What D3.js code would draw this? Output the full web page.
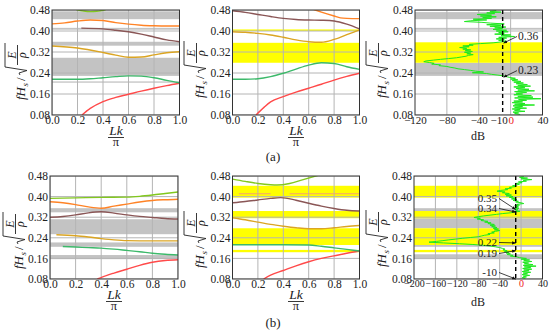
<!DOCTYPE html>
<html><head><meta charset="utf-8">
<script src="https://cdn.jsdelivr.net/npm/d3@7"></script>
<style>body{margin:0;background:#fff}svg{display:block}</style>
</head><body><svg id="c" width="550" height="335"></svg>
<script>
// ---------- data ----------
const freqTicks = [0.08,0.16,0.24,0.32,0.40,0.48];
const lkTicks = [0,0.2,0.4,0.6,0.8,1.0];
const dbTicksA = [-120,-80,-40,-10,0,40];
const dbGridA = [-80,-40,0];
const dbTicksB = [-200,-160,-120,-80,-40,0,40];
const dbGridB = [-160,-120,-80,-40,0];
const dashedDb = -10;

// (a) left
const a1Red = [[0.235,0.08],[0.3,0.105],[0.4,0.131],[0.5,0.147],[0.6,0.159],[0.7,0.171],[0.8,0.182],[0.9,0.192],[1.0,0.201]];
const a1Green = [[0,0.216],[0.2,0.216],[0.3,0.218],[0.4,0.222],[0.5,0.226],[0.6,0.229],[0.7,0.228],[0.8,0.222],[0.9,0.212],[1.0,0.203]];
const a1Gold = [[0,0.343],[0.2,0.335],[0.4,0.318],[0.5,0.308],[0.6,0.300],[0.7,0.301],[0.8,0.309],[0.9,0.317],[1.0,0.321]];
const a1Brown = [[0.23,0.411],[0.4,0.408],[0.5,0.403],[0.6,0.397],[0.7,0.388],[0.8,0.377],[0.9,0.366],[1.0,0.359]];
const a1Orange = [[0,0.427],[0.1,0.431],[0.2,0.438],[0.3,0.442],[0.4,0.44],[0.5,0.432],[0.6,0.426],[0.7,0.422],[0.8,0.42],[0.9,0.419],[1.0,0.419]];
const a1Lime = [[0.19,0.482],[0.25,0.476],[0.3,0.474],[0.35,0.475],[0.42,0.481]];
const a1Gray = [[0.445,0.475],[0.405,0.412],[0.344,0.359],[0.229,0.298],[0.203,0.208]];

// (a) middle
const a2Red = [[0.185,0.08],[0.25,0.11],[0.3,0.13],[0.4,0.150],[0.5,0.167],[0.6,0.182],[0.7,0.197],[0.8,0.213],[0.9,0.227],[1.0,0.239]];
const a2Green = [[0,0.216],[0.1,0.216],[0.2,0.218],[0.3,0.226],[0.4,0.239],[0.5,0.255],[0.6,0.270],[0.7,0.279],[0.8,0.276],[0.9,0.264],[1.0,0.254]];
const a2Gold = [[0,0.397],[0.1,0.395],[0.2,0.391],[0.3,0.385],[0.4,0.376],[0.5,0.366],[0.6,0.359],[0.7,0.357],[0.8,0.368],[0.9,0.386],[1.0,0.404]];
const a2Brown = [[0,0.477],[0.1,0.471],[0.2,0.463],[0.3,0.455],[0.4,0.448],[0.5,0.444],[0.6,0.442],[0.7,0.441],[0.8,0.438],[0.9,0.426],[1.0,0.408]];
const a2Orange = [[0.64,0.482],[0.7,0.472],[0.8,0.457],[0.85,0.45],[0.9,0.448],[1.0,0.447]];
const a2Yellow = [[0.279,0.355],[0.400,0.406]];

// (a) right : transmission [freq, dB]
const a3Gray = [[0.445,0.472],[0.405,0.412],[0.229,0.279]];
const a3Yellow = [[0.279,0.357]];
const a3Trans = [[0.478,-18],[0.475,-26],[0.472,-12],[0.469,-30],[0.466,-20],[0.463,-42],[0.460,-24],[0.457,-38],[0.454,-18],[0.451,-35],[0.448,-24],[0.445,-47],[0.442,-30],[0.439,-50],[0.436,-58],[0.433,-36],[0.430,-25],[0.427,-8],[0.424,-30],[0.421,-12],[0.418,-26],[0.415,-6],[0.412,-20],[0.409,-10],[0.406,-22],[0.403,-5],[0.400,-18],[0.397,-3],[0.394,-15],[0.391,-8],[0.388,-20],[0.385,0],[0.382,-12],[0.379,5],[0.376,-15],[0.373,-5],[0.370,-18],[0.367,-8],[0.364,-15],[0.361,-5],[0.358,-13],[0.355,-22],[0.352,-38],[0.349,-52],[0.346,-47],[0.343,-60],[0.340,-52],[0.337,-64],[0.334,-55],[0.331,-60],[0.328,-50],[0.325,-57],[0.322,-48],[0.319,-58],[0.316,-50],[0.313,-55],[0.310,-47],[0.307,-53],[0.304,-56],[0.301,-62],[0.298,-68],[0.295,-78],[0.292,-88],[0.289,-97],[0.286,-106],[0.283,-109],[0.280,-102],[0.277,-96],[0.274,-99],[0.271,-88],[0.268,-90],[0.265,-80],[0.262,-76],[0.259,-70],[0.256,-66],[0.253,-58],[0.250,-50],[0.247,-44],[0.244,-34],[0.241,-48],[0.238,-30],[0.235,-24],[0.232,-16],[0.229,-9],[0.226,-5],[0.223,-1],[0.220,6],[0.217,0],[0.214,9],[0.211,2],[0.208,13],[0.205,4],[0.202,16],[0.199,7],[0.196,21],[0.193,9],[0.190,25],[0.187,4],[0.184,18],[0.181,7],[0.178,23],[0.175,9],[0.172,30],[0.169,5],[0.166,20],[0.163,7],[0.160,15],[0.157,4],[0.154,26],[0.151,9],[0.148,28],[0.145,5],[0.142,38],[0.139,10],[0.136,20],[0.133,4],[0.130,15],[0.127,2],[0.124,18],[0.121,5],[0.118,30],[0.115,3],[0.112,15],[0.109,5],[0.106,20],[0.103,2],[0.100,12],[0.097,5],[0.094,18],[0.091,3],[0.088,10],[0.085,5],[0.082,12]];
const a3Notes = [{label:"0.36", f:0.36},{label:"0.23", f:0.23}];

// (b) left
const b1Red = [[0.37,0.08],[0.45,0.095],[0.5,0.103],[0.6,0.118],[0.7,0.133],[0.8,0.145],[0.9,0.152],[1.0,0.155]];
const b1Green = [[0.1,0.206],[0.2,0.204],[0.3,0.202],[0.4,0.200],[0.5,0.196],[0.6,0.191],[0.7,0.186],[0.8,0.18],[0.9,0.176],[1.0,0.173]];
const b1Gold = [[0.05,0.252],[0.2,0.248],[0.3,0.243],[0.4,0.237],[0.5,0.232],[0.6,0.229],[0.8,0.228],[1.0,0.228]];
const b1Brown = [[0,0.32],[0.1,0.323],[0.2,0.329],[0.3,0.337],[0.4,0.341],[0.5,0.336],[0.6,0.329],[0.7,0.323],[0.8,0.319],[0.9,0.315],[1.0,0.313]];
const b1Orange = [[0,0.38],[0.1,0.376],[0.2,0.369],[0.3,0.36],[0.4,0.355],[0.5,0.363],[0.6,0.371],[0.7,0.379],[0.8,0.385],[0.9,0.388],[1.0,0.39]];
const b1Lime = [[0,0.393],[0.2,0.395],[0.4,0.397],[0.6,0.398],[0.7,0.401],[0.8,0.406],[0.9,0.412],[1.0,0.418]];
const b1Gray = [[0.339,0.355],[0.254,0.312],[0.205,0.222],[0.157,0.173]];

// (b) middle
const b2Red = [[0.245,0.08],[0.3,0.095],[0.4,0.113],[0.5,0.131],[0.6,0.147],[0.7,0.16],[0.8,0.17],[0.9,0.18],[1.0,0.189]];
const b2Green = [[0,0.213],[0.2,0.213],[0.4,0.213],[0.6,0.212],[0.7,0.207],[0.8,0.201],[0.9,0.195],[1.0,0.189]];
const b2Gold = [[0,0.318],[0.1,0.31],[0.2,0.301],[0.3,0.292],[0.4,0.285],[0.5,0.279],[0.6,0.275],[0.7,0.275],[0.8,0.279],[0.9,0.284],[1.0,0.288]];
const b2Brown = [[0,0.376],[0.1,0.381],[0.2,0.387],[0.3,0.393],[0.38,0.396],[0.5,0.386],[0.6,0.374],[0.7,0.363],[0.8,0.354],[0.9,0.347],[1.0,0.344]];
const b2Lime = [[0,0.468],[0.1,0.459],[0.2,0.451],[0.3,0.446],[0.35,0.445],[0.45,0.451],[0.55,0.465],[0.67,0.482]];
const b2FlatA = [[0.05,0.411],[0.3,0.411]];
const b2FlatB = [[0.45,0.411],[1.0,0.411]];
const b2Yellow = [[0.396,0.442],[0.316,0.344],[0.212,0.277],[0.184,0.193]];

// (b) right
const b3Yellow = [[0.396,0.442],[0.316,0.344],[0.212,0.277],[0.184,0.193]];
const b3Gray = [[0.344,0.355],[0.277,0.316],[0.205,0.212],[0.157,0.176]];
const b3Trans = [[0.478,5],[0.475,-3],[0.472,12],[0.469,0],[0.466,20],[0.463,4],[0.460,10],[0.457,-5],[0.454,2],[0.451,-10],[0.448,-3],[0.445,-9],[0.442,-16],[0.439,-10],[0.436,-22],[0.433,-18],[0.430,-30],[0.427,-25],[0.424,-38],[0.421,-45],[0.418,-30],[0.415,-35],[0.412,-22],[0.409,-30],[0.406,-18],[0.403,-28],[0.400,-15],[0.397,-22],[0.394,-10],[0.391,-18],[0.388,-8],[0.385,-15],[0.382,-5],[0.379,-10],[0.376,0],[0.373,5],[0.370,-8],[0.367,-3],[0.364,-12],[0.361,-5],[0.358,-10],[0.355,-4],[0.352,-12],[0.349,-6],[0.346,-10],[0.343,-2],[0.340,-12],[0.337,-20],[0.334,-35],[0.331,-46],[0.328,-58],[0.325,-70],[0.322,-80],[0.319,-88],[0.316,-76],[0.313,-82],[0.310,-70],[0.307,-75],[0.304,-62],[0.301,-68],[0.298,-56],[0.295,-62],[0.292,-50],[0.289,-58],[0.286,-48],[0.283,-55],[0.280,-45],[0.277,-52],[0.274,-42],[0.271,-50],[0.268,-40],[0.265,-48],[0.262,-55],[0.259,-50],[0.256,-62],[0.253,-58],[0.250,-68],[0.247,-74],[0.244,-80],[0.241,-95],[0.238,-110],[0.235,-122],[0.232,-135],[0.229,-146],[0.226,-158],[0.223,-172],[0.220,-145],[0.217,-115],[0.214,-90],[0.211,-72],[0.208,-58],[0.205,-48],[0.202,-40],[0.199,-35],[0.196,-30],[0.193,-34],[0.190,-26],[0.187,-31],[0.184,-23],[0.181,-28],[0.178,-20],[0.175,-26],[0.172,-15],[0.169,-20],[0.166,-8],[0.163,-3],[0.160,10],[0.157,0],[0.154,16],[0.151,5],[0.148,20],[0.145,3],[0.142,14],[0.139,6],[0.136,22],[0.133,4],[0.130,28],[0.127,6],[0.124,18],[0.121,3],[0.118,20],[0.115,5],[0.112,15],[0.109,2],[0.106,18],[0.103,4],[0.100,12],[0.097,2],[0.094,16],[0.091,4],[0.088,10],[0.085,2],[0.082,8]];
const b3Notes = [{label:"0.35", f:0.35, ty:202},{label:"0.34", f:0.34, ty:212},{label:"0.22", f:0.22, ty:246},{label:"0.19", f:0.19, ty:257},{label:"-10", f:0.08, ty:276}];

// ---------- drawing ----------
const FONT = "'Liberation Serif','Times New Roman',serif";
const COL = {red:"#ff4a4a", green:"#3cb96a", gold:"#dba523", brown:"#8a5656", orange:"#ff8326", lime:"#82c81e", flat:"#f4a070"};
const GRAY = "#c3c3c3", YEL = "#ffff00", GRID = "#b4b4b4";
const svg = d3.select("#c");
svg.append("defs").append("marker").attr("id","arr").attr("viewBox","0 0 10 10").attr("refX",9).attr("refY",5)
  .attr("markerWidth",5).attr("markerHeight",5).attr("orient","auto")
  .append("path").attr("d","M0,1 L10,5 L0,9 z").attr("fill","#111");

let clipN = 0;
function panel(o){
  const x = d3.scaleLinear().domain(o.xDomain).range([o.L,o.R]);
  const y = d3.scaleLinear().domain([0.08,0.48]).range([o.B,o.T]);
  const id = "cp"+(clipN++);
  svg.append("clipPath").attr("id",id).append("rect").attr("x",o.L).attr("y",o.T).attr("width",o.R-o.L).attr("height",o.B-o.T);
  const g = svg.append("g").attr("clip-path",`url(#${id})`);
  g.selectAll(null).data(o.gray||[]).join("rect").attr("x",o.L).attr("width",o.R-o.L)
    .attr("y",d=>y(d[1])).attr("height",d=>y(d[0])-y(d[1])).attr("fill",GRAY);
  g.selectAll(null).data(o.yellow||[]).join("rect").attr("x",o.L).attr("width",o.R-o.L)
    .attr("y",d=>y(d[1])).attr("height",d=>y(d[0])-y(d[1])).attr("fill",YEL);
  g.selectAll(null).data(o.xGrid).join("line").attr("x1",d=>x(d)).attr("x2",d=>x(d)).attr("y1",o.T).attr("y2",o.B)
    .attr("stroke",GRID).attr("stroke-width",1);
  g.selectAll(null).data(freqTicks).join("line").attr("y1",d=>y(d)).attr("y2",d=>y(d)).attr("x1",o.L).attr("x2",o.R)
    .attr("stroke",GRID).attr("stroke-width",1);
  const line = d3.line().x(d=>x(d[0])).y(d=>y(d[1])).curve(d3.curveMonotoneX);
  (o.curves||[]).forEach(c=>{
    g.append("path").attr("d",line(c.data)).attr("fill","none").attr("stroke",c.color).attr("stroke-width",c.w||1.4);
  });
  if(o.trans){
    const tl = d3.line().x(d=>x(d[1])).y(d=>y(d[0]));
    g.append("path").attr("d",tl(o.trans)).attr("fill","none").attr("stroke","#1fe81f").attr("stroke-width",1);
    g.append("line").attr("x1",x(dashedDb)).attr("x2",x(dashedDb)).attr("y1",o.T).attr("y2",o.B)
      .attr("stroke","#000").attr("stroke-width",1.4).attr("stroke-dasharray","4,3");
  }
  svg.append("rect").attr("x",o.L).attr("y",o.T).attr("width",o.R-o.L).attr("height",o.B-o.T)
    .attr("fill","none").attr("stroke","#333").attr("stroke-width",1);
  // axes
  const ay = svg.append("g").attr("transform",`translate(${o.L},0)`)
    .call(d3.axisLeft(y).tickValues(freqTicks).tickFormat(d3.format(".2f")).tickSize(0).tickPadding(2));
  const ax = svg.append("g").attr("transform",`translate(0,${o.B})`)
    .call(d3.axisBottom(x).tickValues(o.xTicks).tickFormat(o.xFmt).tickSize(0).tickPadding(1));
  [ay,ax].forEach(a=>{a.select(".domain").remove(); a.attr("font-family",FONT);
    a.selectAll("text").attr("font-family",FONT).attr("font-size",11.5).attr("fill","#222");});
  if(o.xFont) ax.selectAll("text").attr("font-size",o.xFont);
  ax.selectAll("text").filter(d=>d===0 && o.redZero).attr("fill","#ee2222");
  ax.selectAll("text").filter(d=>d===-10).attr("dx",-4);
  return {x,y};
}

function yLabel(tx,ty){
  const g = svg.append("g").attr("transform",`translate(${tx},${ty}) rotate(-90)`)
    .attr("font-family",FONT).attr("fill","#222");
  g.append("text").attr("x",0).attr("y",0).attr("font-size",13).attr("font-style","italic").text("fH");
  g.append("text").attr("x",13.5).attr("y",3).attr("font-size",9).attr("font-style","italic").text("s");
  g.append("text").attr("x",19).attr("y",0).attr("font-size",13).text("/");
  g.append("path").attr("d","M25,-5 L27,-6 L29.5,2 L33,-20 L57,-20").attr("fill","none").attr("stroke","#222").attr("stroke-width",0.9);
  g.append("line").attr("x1",35).attr("x2",55).attr("y1",-7.5).attr("y2",-7.5).attr("stroke","#222").attr("stroke-width",0.9);
  g.append("text").attr("x",45).attr("y",-9.5).attr("text-anchor","middle").attr("font-size",12).attr("font-style","italic").text("E");
  g.append("text").attr("x",45).attr("y",1).attr("text-anchor","middle").attr("font-size",12).attr("font-style","italic").text("ρ");
}
function lkLabel(cx,b){
  svg.append("text").attr("x",cx).attr("y",b+20).attr("text-anchor","middle").attr("font-family",FONT)
    .attr("font-size",13.5).attr("font-style","italic").attr("fill","#222").text("Lk");
  svg.append("line").attr("x1",cx-8).attr("x2",cx+8).attr("y1",b+22.5).attr("y2",b+22.5).attr("stroke","#222").attr("stroke-width",0.9);
  svg.append("text").attr("x",cx).attr("y",b+31).attr("text-anchor","middle").attr("font-family",FONT)
    .attr("font-size",12.5).attr("fill","#222").text("π");
}
function textAt(x,y,s,size,anchor){
  svg.append("text").attr("x",x).attr("y",y).attr("text-anchor",anchor||"middle").attr("font-family",FONT)
    .attr("font-size",size).attr("fill","#222").text(s);
}
const fmt1 = d3.format(".1f");
const fmtDb = d=> d<0 ? "\u2212"+Math.abs(d) : String(d);
const curvesOf = (r,gr,go,br,or,li)=>[
  {data:r,color:COL.red},{data:gr,color:COL.green},{data:go,color:COL.gold},{data:br,color:COL.brown},
  ...(or?[{data:or,color:COL.orange}]:[]),...(li?[{data:li,color:COL.lime}]:[])];

// (a)
panel({L:52,R:179.5,T:10,B:115,xDomain:[0,1],xTicks:lkTicks,xGrid:lkTicks,xFmt:fmt1,gray:a1Gray,
  curves:curvesOf(a1Red,a1Green,a1Gold,a1Brown,a1Orange,a1Lime)});
yLabel(25,100); lkLabel(116,115);
panel({L:232.5,R:359.5,T:10,B:115,xDomain:[0,1],xTicks:lkTicks,xGrid:lkTicks,xFmt:fmt1,yellow:a2Yellow,
  curves:curvesOf(a2Red,a2Green,a2Gold,a2Brown,a2Orange,null)});
yLabel(204,98); lkLabel(296,115);
const pA = panel({L:415,R:542.5,T:10,B:115,xDomain:[-120,40],xTicks:dbTicksA,xGrid:dbGridA,xFmt:fmtDb,redZero:true,xFont:11,
  gray:a3Gray,yellow:a3Yellow,trans:a3Trans});
yLabel(386,98); textAt(478,140,"dB",12);
a3Notes.forEach((n,i)=>{
  const ex = pA.x(dashedDb), ey = pA.y(n.f);
  const tx = 518, ty = ey-2;
  textAt(tx,ty,n.label,11.5,"start");
  svg.append("line").attr("x1",tx-1).attr("y1",ty-3).attr("x2",ex+1).attr("y2",ey+1.5)
    .attr("stroke","#111").attr("stroke-width",0.8).attr("marker-end","url(#arr)");
});
textAt(273,161,"(a)",13);

// (b)
panel({L:50,R:178,T:176,B:279,xDomain:[0,1],xTicks:lkTicks,xGrid:lkTicks,xFmt:fmt1,gray:b1Gray,
  curves:curvesOf(b1Red,b1Green,b1Gold,b1Brown,b1Orange,b1Lime)});
yLabel(23,269); lkLabel(114,279);
panel({L:232.5,R:359.5,T:176,B:279,xDomain:[0,1],xTicks:lkTicks,xGrid:lkTicks,xFmt:fmt1,yellow:b2Yellow,
  curves:[...curvesOf(b2Red,b2Green,b2Gold,b2Brown,null,b2Lime),{data:b2FlatA,color:COL.flat,w:1.2},{data:b2FlatB,color:COL.flat,w:1.2}]});
yLabel(204,268); lkLabel(296,279);
const pB = panel({L:414,R:542.5,T:176,B:279,xDomain:[-200,40],xTicks:dbTicksB,xGrid:dbGridB,xFmt:fmtDb,redZero:true,xFont:10,
  gray:b3Gray,yellow:b3Yellow,trans:b3Trans});
yLabel(386,267); textAt(478,306,"dB",12);
b3Notes.forEach(n=>{
  const ex = pB.x(dashedDb), ey = pB.y(n.f);
  textAt(497,n.ty,n.label,11,"end");
  svg.append("line").attr("x1",499).attr("y1",n.ty-3.5).attr("x2",ex).attr("y2",ey)
    .attr("stroke","#111").attr("stroke-width",0.8).attr("marker-end","url(#arr)");
});
textAt(273,327,"(b)",13);
</script></body></html>
